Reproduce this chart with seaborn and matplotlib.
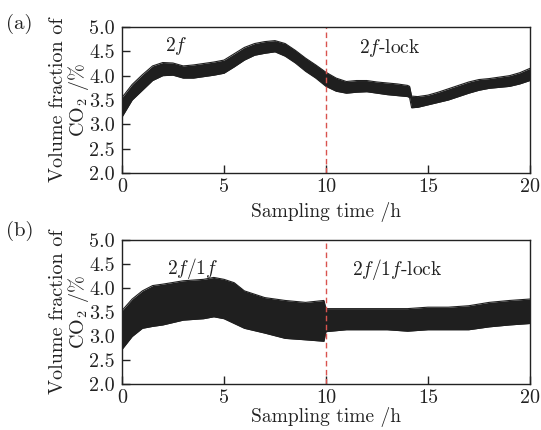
import numpy as np
import pandas as pd
import matplotlib
matplotlib.use("Agg")
import matplotlib.pyplot as plt
import seaborn as sns

# ---- data (envelopes of the noisy signal) ----
time_a = [0, 0.5, 1, 1.5, 2, 2.5, 3, 3.5, 4, 4.5, 5, 5.5, 6, 6.5, 7, 7.5, 8, 8.5, 9, 9.5,
          10, 10.5, 11, 11.5, 12, 12.5, 13, 13.5, 14, 14.1, 14.2, 14.5, 15, 15.5, 16, 16.5,
          17, 17.5, 18, 18.5, 19, 19.5, 20]
upper_a = [3.55, 3.82, 4.02, 4.20, 4.27, 4.26, 4.20, 4.22, 4.25, 4.28, 4.32, 4.45, 4.58, 4.66,
           4.70, 4.72, 4.66, 4.52, 4.36, 4.22, 4.07, 3.95, 3.88, 3.90, 3.90, 3.87, 3.85, 3.83,
           3.80, 3.78, 3.58, 3.57, 3.60, 3.66, 3.73, 3.80, 3.87, 3.92, 3.94, 3.97, 4.00, 4.06, 4.15]
lower_a = [3.15, 3.50, 3.70, 3.90, 4.00, 4.01, 3.95, 3.95, 3.98, 4.01, 4.05, 4.18, 4.32, 4.42,
           4.46, 4.49, 4.40, 4.26, 4.09, 3.95, 3.78, 3.68, 3.64, 3.66, 3.67, 3.64, 3.61, 3.59,
           3.57, 3.55, 3.34, 3.35, 3.40, 3.45, 3.50, 3.57, 3.64, 3.70, 3.74, 3.76, 3.78, 3.83, 3.90]

time_b = [0, 0.5, 1, 1.5, 2, 3, 4, 4.5, 5, 5.5, 6, 7, 8, 9, 9.9, 10, 11, 12, 13, 14, 15,
          16, 17, 18, 19, 20]
upper_b = [3.53, 3.77, 3.94, 4.05, 4.08, 4.15, 4.18, 4.22, 4.18, 4.11, 3.94, 3.80, 3.74, 3.70,
           3.74, 3.57, 3.57, 3.57, 3.57, 3.57, 3.60, 3.60, 3.63, 3.70, 3.74, 3.77]
lower_b = [2.72, 2.99, 3.16, 3.20, 3.23, 3.33, 3.36, 3.40, 3.36, 3.26, 3.16, 3.06, 2.95, 2.92,
           2.89, 3.09, 3.13, 3.13, 3.13, 3.10, 3.13, 3.13, 3.13, 3.19, 3.23, 3.26]

x_ticks = [0, 5, 10, 15, 20]
y_ticks = [2.0, 2.5, 3.0, 3.5, 4.0, 4.5, 5.0]
lock_time = 10

sns.set_theme(style="white")
plt.rcParams["font.family"] = ["cmr10", "DejaVu Serif"]
plt.rcParams["mathtext.fontset"] = "cm"
plt.rcParams["axes.formatter.use_mathtext"] = True
plt.rcParams["axes.unicode_minus"] = False

fig = plt.figure(figsize=(5.41, 4.30), dpi=100)
ax_a = fig.add_axes([0.2255, 0.5977, 0.754, 0.3395])
ax_b = fig.add_axes([0.2255, 0.1070, 0.754, 0.3349])

band_col = "#1f1f1f"
txt_col = "#222222"

def draw(ax, t, lo, hi, label_left, label_right, pos_left, pos_right, tag, tag_y, xpad):
    df = pd.DataFrame({"t": t, "lo": lo, "hi": hi})
    sns.lineplot(data=df, x="t", y="hi", ax=ax, color=band_col, lw=0.8)
    sns.lineplot(data=df, x="t", y="lo", ax=ax, color=band_col, lw=0.8)
    ax.fill_between(df["t"], df["lo"], df["hi"], color=band_col, lw=0)
    ax.axvline(lock_time, color="#d9534f", ls=(0, (4, 2.5)), lw=1.0)
    ax.set_xlim(0, 20)
    ax.set_ylim(2.0, 5.0)
    ax.set_xticks(x_ticks)
    ax.set_xticklabels([str(v) for v in x_ticks])
    ax.set_yticks(y_ticks)
    ax.set_yticklabels([f"{v:.1f}" for v in y_ticks])
    ax.tick_params(axis="both", direction="in", length=6, width=1.0, labelsize=14.5,
                   colors=txt_col, bottom=True, left=True, top=False, right=False)
    ax.tick_params(axis="y", pad=5)
    ax.tick_params(axis="x", pad=4)
    for s in ax.spines.values():
        s.set_color(txt_col)
        s.set_linewidth(1.0)
    ax.set_xlabel("Sampling time /h", fontsize=14, color=txt_col, labelpad=xpad)
    ax.set_ylabel("Volume fraction of\nCO$_2$ /%", fontsize=14.5, color=txt_col,
                  linespacing=0.95, labelpad=-1)
    ax.text(pos_left[0], pos_left[1], label_left, fontsize=14, color=txt_col, va="center")
    ax.text(pos_right[0], pos_right[1], label_right, fontsize=14, color=txt_col, va="center")
    fig.text(0.012, tag_y, tag, fontsize=15, color=txt_col, va="center")

draw(ax_a, time_a, lower_a, upper_a, r"$2f$", r"$2f$-lock", (2.1, 4.6), (11.6, 4.57),
     "(a)", 0.945, 4)
draw(ax_b, time_b, lower_b, upper_b, r"$2f/1f$", r"$2f/1f$-lock", (2.2, 4.40), (11.3, 4.38),
     "(b)", 0.462, 0)

fig.savefig("out.png", dpi=100)
